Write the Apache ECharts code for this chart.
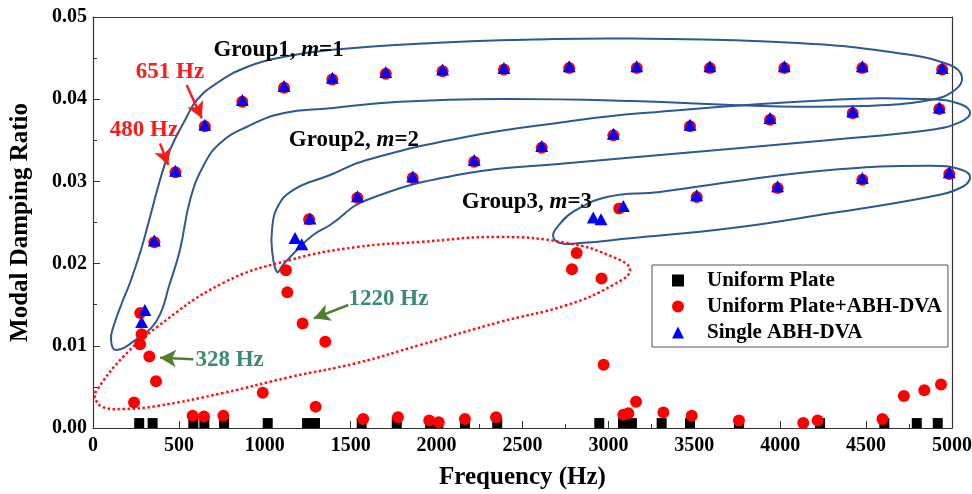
<!DOCTYPE html>
<html>
<head>
<meta charset="utf-8">
<script src="https://cdn.jsdelivr.net/npm/echarts@6/dist/echarts.min.js"></script>
<style>
  html, body { margin: 0; padding: 0; background: #fff; }
  #chart { width: 972px; height: 494px; }
</style>
</head>
<body>
<div id="chart"></div>
<script>
const FONT = '"Liberation Serif", "Times New Roman", serif';

// ---- measured modes ----
const uniformFreq  = [269, 347, 584, 648, 763, 1017, 1246, 1292, 1564, 1768, 1962, 2010, 2165, 2353, 2947, 3085, 3137, 3310, 3475, 3760, 4232, 4606, 4795, 4917];
const uniformRatio = [0.0006, 0.0006, 0.0006, 0.0006, 0.0006, 0.0006, 0.0006, 0.0006, 0.0006, 0.0006, 0.0006, 0.0006, 0.0006, 0.0006, 0.0006, 0.0006, 0.0006, 0.0006, 0.0006, 0.0006, 0.0006, 0.0006, 0.0006, 0.0006];

const coupledFreq  = [239, 274, 275, 283, 328, 357, 367, 480, 580, 646, 651, 759, 869, 988, 1112, 1123, 1131, 1220, 1258, 1296, 1352, 1393, 1539, 1573, 1704, 1775, 1861, 1957, 2012, 2035, 2165, 2219, 2346, 2392, 2612, 2772, 2788, 2815, 2960, 2972, 3029, 3063, 3087, 3116, 3161, 3165, 3320, 3475, 3485, 3514, 3591, 3760, 3941, 3985, 4024, 4134, 4218, 4422, 4478, 4478, 4595, 4720, 4839, 4926, 4936, 4943, 4984];
const coupledRatio = [0.0031, 0.0102, 0.0140, 0.0114, 0.0087, 0.0226, 0.0057, 0.0311, 0.0015, 0.0014, 0.0367, 0.0015, 0.0397, 0.0043, 0.0414, 0.0192, 0.0165, 0.0127, 0.0254, 0.0026, 0.0105, 0.0424, 0.0280, 0.0011, 0.0431, 0.0013, 0.0304, 0.0009, 0.0007, 0.0434, 0.0011, 0.0324, 0.0013, 0.0436, 0.0341, 0.0438, 0.0193, 0.0213, 0.0182, 0.0077, 0.0356, 0.0267, 0.0016, 0.0018, 0.0032, 0.0438, 0.0019, 0.0367, 0.0015, 0.0281, 0.0438, 0.0009, 0.0375, 0.0292, 0.0438, 0.0006, 0.0009, 0.0383, 0.0438, 0.0302, 0.0011, 0.0039, 0.0046, 0.0388, 0.0053, 0.0436, 0.0309];

const abhFreq  = [283, 302, 357, 480, 651, 869, 1112, 1176, 1215, 1263, 1393, 1539, 1704, 1861, 2035, 2219, 2392, 2612, 2772, 2912, 2957, 3029, 3087, 3165, 3475, 3514, 3591, 3941, 3985, 4024, 4422, 4478, 4478, 4926, 4943, 4984];
const abhRatio = [0.0129, 0.01435, 0.0228, 0.0313, 0.0369, 0.0399, 0.0416, 0.0231, 0.02235, 0.0255, 0.0426, 0.0282, 0.0433, 0.0306, 0.0436, 0.0326, 0.0438, 0.0343, 0.0440, 0.0256, 0.0254, 0.0358, 0.0270, 0.0440, 0.0369, 0.0283, 0.0440, 0.0377, 0.0294, 0.0440, 0.0385, 0.0440, 0.0304, 0.0390, 0.0438, 0.0311];

const seriesNames = ['Uniform Plate', 'Uniform Plate+ABH-DVA', 'Single ABH-DVA'];

// ---- hand-drawn group outlines (closed loops), in (Hz, damping ratio) ----
const group1Outline = [[105,0.0107],[122,0.01253],[175,0.01557],[215,0.01764],[279,0.02165],[332,0.02567],[390,0.03017],[448,0.03382],[536,0.03747],[605,0.0399],[722,0.04197],[896,0.04392],[1106,0.04513],[1380,0.04599],[1979,0.04684],[2561,0.04726],[3143,0.04738],[4098,0.04684],[4680,0.04562],[4988,0.04416],[5058,0.0427],[5017,0.04112],[4872,0.0399],[4482,0.03917],[3900,0.03917],[3143,0.03978],[2369,0.04003],[1787,0.03969],[1380,0.03889],[1106,0.03828],[896,0.03665],[739,0.03463],[640,0.03179],[565,0.02774],[506,0.02165],[448,0.01764],[373,0.01314],[262,0.01095],[134,0.00949]];
const group2Outline = [[1071,0.01898],[1042,0.02165],[1042,0.02409],[1071,0.02676],[1164,0.02895],[1380,0.03078],[1593,0.0326],[2175,0.03544],[2757,0.03726],[3184,0.03828],[4290,0.0399],[4872,0.03999],[5047,0.03941],[5105,0.03832],[5047,0.03722],[4872,0.03625],[4290,0.03504],[3184,0.033],[2757,0.0322],[2175,0.03098],[1593,0.02774],[1380,0.0247],[1281,0.02348],[1187,0.02165],[1106,0.01983]];
const group3Outline = [[2678,0.02336],[2707,0.02457],[2794,0.02628],[2992,0.0281],[3300,0.02871],[3708,0.02993],[4290,0.03139],[4872,0.03191],[5058,0.03139],[5105,0.03041],[5047,0.0292],[4872,0.02814],[4290,0.02612],[3708,0.02429],[3126,0.02308],[2835,0.0225],[2718,0.0225]];
const lowModeOutline = [[12,0.00365],[23,0.00462],[175,0.00864],[373,0.01229],[757,0.01764],[1147,0.02044],[1537,0.02202],[1903,0.02263],[2369,0.02324],[2759,0.0225],[3027,0.0208],[3126,0.01922],[3027,0.0174],[2759,0.01496],[2369,0.0129],[1903,0.0101],[1537,0.00791],[1147,0.0062],[757,0.00426],[373,0.00268],[175,0.00231],[58,0.00255]];

// ---- annotations ----
const groupLabels = [
  { text: 'Group1, ', m: '1', at: [1080, 0.0460] },
  { text: 'Group2, ', m: '2', at: [1519, 0.0350] },
  { text: 'Group3, ', m: '3', at: [2526, 0.0275] }
];
const redNotes   = [{ text: '651 Hz', at: [448, 0.0433] }, { text: '480 Hz', at: [297, 0.0362] }];
const greenNotes = [{ text: '1220 Hz', at: [1720, 0.0157] }, { text: '328 Hz', at: [795, 0.0083] }];
const redArrows   = [[[545, 0.04173], [633, 0.03768]], [[390, 0.03463], [438, 0.0320]]];
const greenArrows = [[[584, 0.00836], [390, 0.00855]], [[1486, 0.01496], [1286, 0.01334]]];

const zip = (a, b) => a.map((v, i) => [v, b[i]]);

// closed smooth loop drawn through the axes' scales
const outlineSeries = (pts, color, dash, width) => ({
  type: 'custom', data: [0], silent: true, clip: false, z: 1, animation: false,
  renderItem: (params, api) => ({
    type: 'polygon',
    shape: { points: pts.map(p => api.coord(p)), smooth: 0.45 },
    style: { fill: null, stroke: color, lineWidth: width, lineDash: dash }
  })
});

const noteSeries = (notes, color, fmt) => ({
  type: 'scatter', symbolSize: 0, silent: true, z: 6, animation: false, clip: false,
  itemStyle: { opacity: 1 },
  data: notes.map(n => ({ value: n.at, note: n })),
  label: {
    show: true, position: 'inside', color, opacity: 1, fontFamily: FONT, fontWeight: 'bold', fontSize: 23,
    formatter: p => fmt(p.data.note),
    rich: {
      b: { fontFamily: FONT, fontWeight: 'bold', fontSize: 23, color },
      i: { fontFamily: FONT, fontWeight: 'bold', fontStyle: 'italic', fontSize: 23, color }
    }
  }
});

const arrowSeries = (arrows, color) => ({
  type: 'scatter', data: [], silent: true, z: 5,
  markLine: {
    silent: true, animation: false, symbol: ['none', 'arrow'], symbolSize: [13, 16],
    label: { show: false },
    lineStyle: { color, width: 2.5, type: 'solid', opacity: 1 },
    data: arrows.map(a => [{ coord: a[0] }, { coord: a[1] }])
  }
});

const frameAxis = {
  show: true, type: 'value', min: 0,
  axisLine: { show: true, onZero: false, lineStyle: { color: '#333', width: 1.2 } },
  axisTick: { show: false }, axisLabel: { show: false }, splitLine: { show: false }
};

const chart = echarts.init(document.getElementById('chart'));
chart.setOption({
  animation: false,
  backgroundColor: '#fff',
  grid: { left: 93, right: 20, top: 17, bottom: 66, outerBoundsMode: 'none', containLabel: false },
  xAxis: [{
    type: 'value', min: 0, max: 5000, interval: 500,
    name: 'Frequency (Hz)', nameLocation: 'middle', nameGap: 37,
    nameTextStyle: { fontFamily: FONT, fontWeight: 'bold', fontSize: 25, color: '#000' },
    axisLine: { show: true, onZero: false, lineStyle: { color: '#333', width: 1.2 } },
    axisTick: { show: true, inside: true, length: 7, lineStyle: { color: '#333' } },
    minorTick: { show: true, splitNumber: 2, length: 4, lineStyle: { color: '#333' } },
    splitLine: { show: false },
    axisLabel: { fontFamily: FONT, fontWeight: 'bold', fontSize: 20, color: '#000', margin: 8, formatter: v => String(v) }
  }, Object.assign({}, frameAxis, { position: 'top', max: 5000 })],
  yAxis: [{
    type: 'value', min: 0, max: 0.05, interval: 0.01,
    name: 'Modal Damping Ratio', nameLocation: 'middle', nameGap: 60,
    nameTextStyle: { fontFamily: FONT, fontWeight: 'bold', fontSize: 25, color: '#000' },
    axisLine: { show: true, onZero: false, lineStyle: { color: '#333', width: 1.2 } },
    axisTick: { show: true, inside: true, length: 7, lineStyle: { color: '#333' } },
    minorTick: { show: true, splitNumber: 2, length: 4, lineStyle: { color: '#333' } },
    splitLine: { show: false },
    axisLabel: { fontFamily: FONT, fontWeight: 'bold', fontSize: 20, color: '#000', margin: 6, formatter: v => v.toFixed(2) }
  }, Object.assign({}, frameAxis, { position: 'right', max: 0.05 })],
  legend: {
    orient: 'vertical', left: 652, top: 265,
    padding: [5, 6, 4, 20], itemGap: 5, itemWidth: 12, itemHeight: 12,
    borderColor: '#555', borderWidth: 1, backgroundColor: '#fff',
    textStyle: { fontFamily: FONT, fontWeight: 'bold', fontSize: 21, color: '#000', lineHeight: 21, padding: [0, 0, 0, 18] },
    data: [
      { name: seriesNames[0], icon: 'rect' },
      { name: seriesNames[1], icon: 'circle' },
      { name: seriesNames[2], icon: 'triangle' }
    ]
  },
  series: [
    outlineSeries(group1Outline, '#2d5893', null, 2),
    outlineSeries(group2Outline, '#2d5893', null, 2),
    outlineSeries(group3Outline, '#2d5893', null, 2),
    outlineSeries(lowModeOutline, '#ff1010', [2.5, 2.5], 2.5),
    {
      name: seriesNames[0], type: 'scatter', symbol: 'rect', symbolSize: 10, z: 3,
      itemStyle: { color: '#000', opacity: 1 }, data: zip(uniformFreq, uniformRatio)
    },
    {
      name: seriesNames[1], type: 'scatter', symbol: 'circle', symbolSize: 12, z: 3,
      itemStyle: { color: '#ff0000', opacity: 1 }, data: zip(coupledFreq, coupledRatio)
    },
    {
      name: seriesNames[2], type: 'scatter', symbol: 'triangle', symbolSize: [13, 12], z: 4,
      itemStyle: { color: '#0000ff', opacity: 1 }, data: zip(abhFreq, abhRatio)
    },
    arrowSeries(redArrows, '#ff1a1a'),
    arrowSeries(greenArrows, '#4f7f31'),
    noteSeries(groupLabels, '#000', n => '{b|' + n.text + '}{i|m}{b|=' + n.m + '}'),
    noteSeries(redNotes, '#ff1a1a', n => n.text),
    noteSeries(greenNotes, '#3b8c6c', n => n.text)
  ]
});
</script>
</body>
</html>
